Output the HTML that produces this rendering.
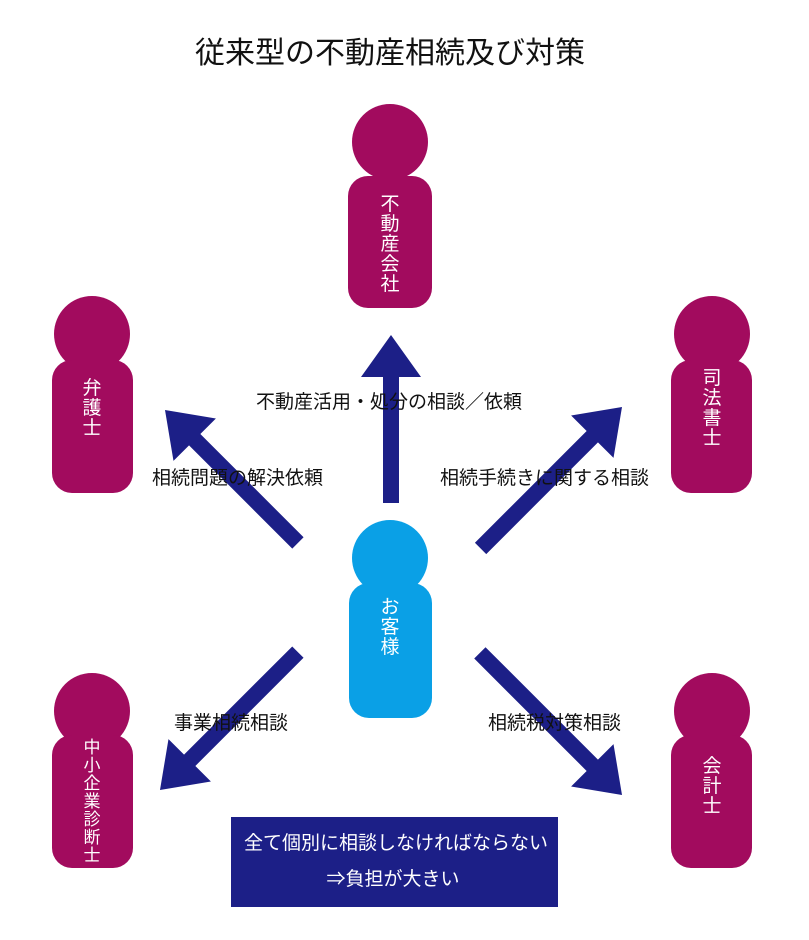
<!DOCTYPE html>
<html><head><meta charset="utf-8"><style>
html,body{margin:0;padding:0;background:#fff}
svg{display:block}
text{font-family:"Liberation Sans","Noto Sans CJK JP",sans-serif}
</style></head><body>
<svg width="809" height="940" viewBox="0 0 809 940" xmlns="http://www.w3.org/2000/svg">
<rect width="809" height="940" fill="#fff"/>
<text x="390" y="63" font-size="30" text-anchor="middle" fill="#111">従来型の不動産相続及び対策</text>
<g fill="#1c1f87">
<polygon transform="translate(391,335) rotate(-90)" points="-168,-8 -42,-8 -42,-30 0,0 -42,30 -42,8 -168,8"/>
<polygon transform="translate(165,410) rotate(-135)" points="-188,-8 -42,-8 -42,-30 0,0 -42,30 -42,8 -188,8"/>
<polygon transform="translate(622,407) rotate(-45)" points="-200,-8 -42,-8 -42,-30 0,0 -42,30 -42,8 -200,8"/>
<polygon transform="translate(160,790) rotate(135)" points="-195,-8 -42,-8 -42,-30 0,0 -42,30 -42,8 -195,8"/>
<polygon transform="translate(622,795) rotate(45)" points="-201,-8 -42,-8 -42,-30 0,0 -42,30 -42,8 -201,8"/>
</g>
<g fill="#a20b5e">
<circle cx="390" cy="142" r="38"/><rect x="348" y="176" width="84" height="132" rx="20"/>
<circle cx="92" cy="334" r="38"/><rect x="52" y="360" width="81" height="133" rx="20"/>
<circle cx="712" cy="334" r="38"/><rect x="671" y="360" width="81" height="133" rx="20"/>
<circle cx="92" cy="711" r="38"/><rect x="52" y="735" width="81" height="133" rx="20"/>
<circle cx="712" cy="711" r="38"/><rect x="671" y="735" width="81" height="133" rx="20"/>
</g>
<g fill="#0aa0e6">
<circle cx="390" cy="558" r="38"/><rect x="349" y="583" width="83" height="135" rx="20"/>
</g>
<g fill="#fff" font-size="19" text-anchor="middle">
<text x="390" y="210">不</text><text x="390" y="230">動</text><text x="390" y="250">産</text><text x="390" y="270">会</text><text x="390" y="290">社</text>
<text x="92" y="394">弁</text><text x="92" y="414">護</text><text x="92" y="434">士</text>
<text x="712" y="384">司</text><text x="712" y="404">法</text><text x="712" y="424">書</text><text x="712" y="444">士</text>
<text x="390" y="613">お</text><text x="390" y="633">客</text><text x="390" y="653">様</text>
<text x="712" y="772">会</text><text x="712" y="792">計</text><text x="712" y="812">士</text>
</g>
<g fill="#fff" font-size="17" text-anchor="middle">
<text x="92" y="753">中</text><text x="92" y="771">小</text><text x="92" y="789">企</text><text x="92" y="807">業</text><text x="92" y="825">診</text><text x="92" y="843">断</text><text x="92" y="861">士</text>
</g>
<g fill="#111" font-size="19">
<text x="389" y="408" text-anchor="middle">不動産活用・処分の相談／依頼</text>
<text x="152" y="484">相続問題の解決依頼</text>
<text x="440" y="484">相続手続きに関する相談</text>
<text x="174" y="729">事業相続相談</text>
<text x="488" y="729">相続税対策相談</text>
</g>
<rect x="231" y="817" width="327" height="90" fill="#1c1f87"/>
<g fill="#fff" font-size="19" text-anchor="middle">
<text x="396" y="849">全て個別に相談しなければならない</text>
<text x="393" y="885">⇒負担が大きい</text>
</g>
</svg>
</body></html>
